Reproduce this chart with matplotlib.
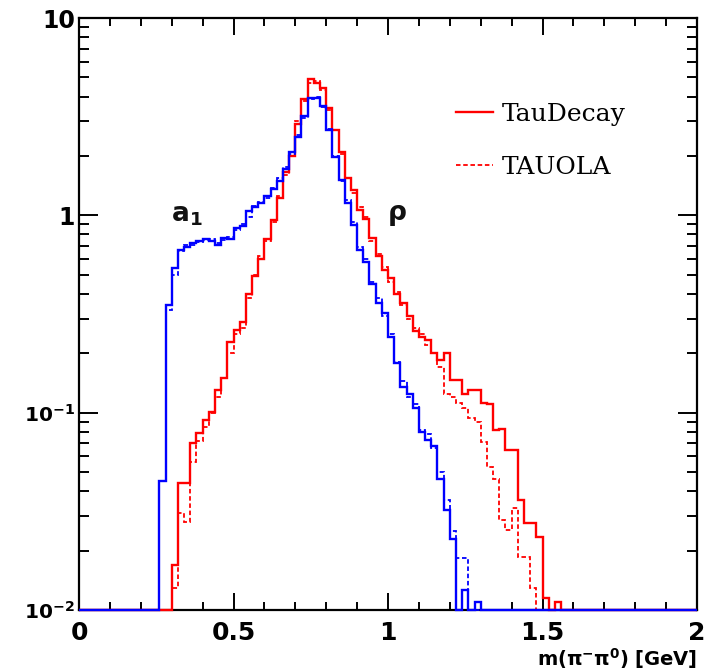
import numpy as np
import matplotlib
matplotlib.use("Agg")
import matplotlib.pyplot as plt
from matplotlib.ticker import FixedLocator, FixedFormatter, LogLocator, NullFormatter

plt.rcParams['mathtext.fontset'] = 'dejavusans'

# m(pi- pi0) spectra, 0.02 GeV bins, first filled bin given by *_start
bin_width = 0.02
rho_start = 0.30
rho_taudecay = [0.017, 0.044, 0.044, 0.070, 0.079, 0.092, 0.101, 0.13, 0.15, 0.229,
                0.262, 0.289, 0.40, 0.49, 0.60, 0.76, 0.95, 1.22, 1.65, 2.0,
                2.9, 3.9, 4.9, 4.7, 4.4, 3.5, 2.7, 2.1, 1.54, 1.34,
                1.07, 0.96, 0.77, 0.62, 0.53, 0.48, 0.40, 0.36, 0.31, 0.26,
                0.243, 0.233, 0.20, 0.184, 0.20, 0.146, 0.146, 0.125, 0.13, 0.13,
                0.112, 0.11, 0.082, 0.083, 0.065, 0.065, 0.036, 0.0275, 0.0275, 0.0235,
                0.0115, 0.0, 0.011]
rho_tauola = [0.013, 0.031, 0.028, 0.056, 0.072, 0.085, 0.10, 0.12, 0.15, 0.20,
              0.25, 0.27, 0.38, 0.50, 0.62, 0.74, 0.93, 1.25, 1.60, 2.1,
              3.0, 3.8, 4.7, 4.8, 4.3, 3.4, 2.7, 2.05, 1.55, 1.30,
              1.10, 0.98, 0.74, 0.64, 0.55, 0.46, 0.41, 0.35, 0.30, 0.27,
              0.25, 0.22, 0.20, 0.17, 0.125, 0.12, 0.112, 0.105, 0.094, 0.09,
              0.071, 0.053, 0.046, 0.0286, 0.0254, 0.033, 0.0186, 0.0186, 0.013]

a1_start = 0.26
a1_taudecay = [0.045, 0.35, 0.54, 0.67, 0.69, 0.72, 0.74, 0.76, 0.74, 0.71,
               0.77, 0.76, 0.86, 0.88, 1.05, 1.10, 1.15, 1.25, 1.36, 1.50,
               1.72, 2.1, 2.5, 3.2, 3.95, 3.95, 3.6, 2.7, 1.98, 1.51,
               1.15, 0.89, 0.67, 0.58, 0.45, 0.36, 0.32, 0.243, 0.178, 0.135,
               0.125, 0.105, 0.080, 0.073, 0.068, 0.046, 0.032, 0.023, 0.0, 0.0126,
               0.0, 0.011]
a1_tauola = [0.045, 0.33, 0.50, 0.66, 0.71, 0.71, 0.73, 0.75, 0.76, 0.72,
             0.75, 0.78, 0.84, 0.90, 0.98, 1.12, 1.17, 1.22, 1.38, 1.55,
             1.75, 2.05, 2.55, 3.1, 3.9, 4.0, 3.55, 2.75, 2.0, 1.5,
             1.2, 0.92, 0.69, 0.60, 0.46, 0.38, 0.31, 0.25, 0.18, 0.145,
             0.12, 0.11, 0.082, 0.078, 0.066, 0.05, 0.036, 0.025, 0.0183, 0.0183]

x_ticks = [0.0, 0.5, 1.0, 1.5, 2.0]
x_ticklabels = ['0', '0.5', '1', '1.5', '2']
y_ticks = [1e-2, 1e-1, 1, 10]
y_ticklabels = [r'$\mathbf{10^{-2}}$', r'$\mathbf{10^{-1}}$', '1', '10']

x_lo, x_hi = 0.0, 2.0
y_lo, y_hi = 1e-2, 10.0
edges = np.arange(x_lo, x_hi + bin_width / 2, bin_width)


def full_hist(start, vals):
    h = np.zeros(len(edges) - 1)
    i0 = int(round(start / bin_width))
    h[i0:i0 + len(vals)] = vals
    # empty bins sit on the lower edge of the log axis
    return np.clip(h, y_lo, None)


fig = plt.figure(figsize=(7.14, 6.7), dpi=100)
ax = fig.add_axes([79 / 714, 60 / 670, 618 / 714, 592 / 670])

dash = (0, (2.5, 1.5))
ax.stairs(full_hist(rho_start, rho_tauola), edges, baseline=None, color='#ff0000', lw=1.3,
          ls=dash, zorder=3, clip_on=False, label='TAUOLA')
ax.stairs(full_hist(rho_start, rho_taudecay), edges, baseline=None, color='#ff0000', lw=1.7,
          zorder=3, clip_on=False, label='TauDecay')
ax.stairs(full_hist(a1_start, a1_tauola), edges, baseline=None, color='#0000ff', lw=1.3,
          ls=dash, zorder=4, clip_on=False)
ax.stairs(full_hist(a1_start, a1_taudecay), edges, baseline=None, color='#0000ff', lw=1.7,
          zorder=4, clip_on=False)

ax.set_yscale('log')
ax.set_xlim(x_lo, x_hi)
ax.set_ylim(y_lo, y_hi)

# ROOT style frame: inward ticks on all four sides
ax.xaxis.set_major_locator(FixedLocator(x_ticks))
ax.xaxis.set_major_formatter(FixedFormatter(x_ticklabels))
ax.xaxis.set_minor_locator(FixedLocator(np.arange(0.1, 2.0, 0.1)))
ax.yaxis.set_major_locator(FixedLocator(y_ticks))
ax.yaxis.set_major_formatter(FixedFormatter(y_ticklabels))
ax.yaxis.set_minor_locator(LogLocator(base=10, subs=np.arange(2, 10)))
ax.yaxis.set_minor_formatter(NullFormatter())

ax.tick_params(which='both', direction='in', top=True, right=True, width=1.4, colors='black')
ax.tick_params(axis='x', which='major', length=12, pad=8)
ax.tick_params(axis='x', which='minor', length=6)
ax.tick_params(axis='y', which='major', length=14, pad=3)
ax.tick_params(axis='y', which='minor', length=7)
for lab in ax.get_xticklabels() + ax.get_yticklabels():
    lab.set_fontsize(18)
    lab.set_fontweight('bold')
    lab.set_family('DejaVu Sans')
for lab in ax.get_yticklabels():
    lab.set_fontsize(14.5 if '^' in lab.get_text() else 17)
for sp in ax.spines.values():
    sp.set_linewidth(1.6)

ax.set_xlabel(r'$\mathbf{m(\pi^{-}\pi^{0})\ [GeV]}$', fontsize=14, loc='right', labelpad=1)

ax.text(0.35, 1.0, r'$\mathbf{a_1}$', fontsize=19, ha='center', va='center', color='#111111')
ax.text(1.03, 1.0, r'$\mathbf{\rho}$', fontsize=19, ha='center', va='center', color='#111111')

h, l = ax.get_legend_handles_labels()
leg = ax.legend(h[::-1], l[::-1], loc='upper left', bbox_to_anchor=(0.573, 0.895), frameon=False,
                prop={'family': 'DejaVu Serif', 'size': 18}, handlelength=1.5,
                handletextpad=0.35, labelspacing=1.2)

fig.savefig('out.png', dpi=100)
